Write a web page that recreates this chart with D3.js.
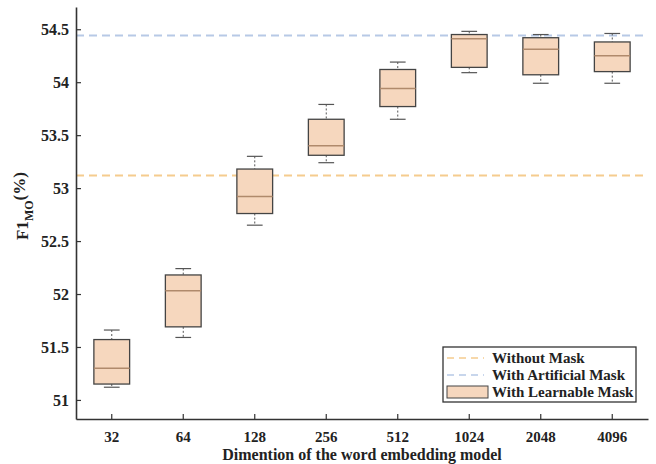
<!DOCTYPE html>
<html>
<head>
<meta charset="utf-8">
<script src="https://cdn.jsdelivr.net/npm/d3@7"></script>
<style>
  body { margin: 0; background: #fff; }
  text { font-family: "Liberation Serif", "Times New Roman", serif; font-weight: bold; fill: #222; }
</style>
</head>
<body>
<div id="chart"></div>
<script>
const dims = ["32", "64", "128", "256", "512", "1024", "2048", "4096"];
const whiskerLow = [51.12, 51.59, 52.65, 53.24, 53.65, 54.09, 53.99, 53.99];
const q1 = [51.15, 51.69, 52.76, 53.31, 53.77, 54.14, 54.07, 54.10];
const medians = [51.30, 52.03, 52.92, 53.40, 53.94, 54.41, 54.31, 54.25];
const q3 = [51.57, 52.18, 53.18, 53.65, 54.12, 54.45, 54.42, 54.38];
const whiskerHigh = [51.66, 52.24, 53.30, 53.79, 54.19, 54.48, 54.45, 54.46];
const withoutMask = 53.12;
const artificialMask = 54.44;
const yTicks = [51, 51.5, 52, 52.5, 53, 53.5, 54, 54.5];
const legendLabels = ["Without Mask", "With Artificial Mask", "With Learnable Mask"];

const width = 656, height = 464;
const margin = { top: 7, right: 8, bottom: 45, left: 76 };

const svg = d3.select("#chart").append("svg")
    .attr("width", width)
    .attr("height", height);

const x = d3.scaleBand()
    .domain(dims)
    .range([margin.left, width - margin.right]);

const y = d3.scaleLinear()
    .domain([50.82, 54.71])
    .range([height - margin.bottom, margin.top]);

const boxes = dims.map((d, i) => ({
    dim: d, lo: whiskerLow[i], q1: q1[i], med: medians[i], q3: q3[i], hi: whiskerHigh[i]
}));

// reference lines
svg.append("line")
    .attr("x1", margin.left).attr("x2", width - margin.right)
    .attr("y1", y(artificialMask)).attr("y2", y(artificialMask))
    .attr("stroke", "#b7c9e6").attr("stroke-width", 2)
    .attr("stroke-dasharray", "8,5");

svg.append("line")
    .attr("x1", margin.left).attr("x2", width - margin.right)
    .attr("y1", y(withoutMask)).attr("y2", y(withoutMask))
    .attr("stroke", "#f5cc8e").attr("stroke-width", 2)
    .attr("stroke-dasharray", "8,5");

// boxes
const bw = x.bandwidth() * 0.5;
const cw = x.bandwidth() * 0.22;
const g = svg.append("g").selectAll("g")
    .data(boxes)
    .enter().append("g")
    .attr("transform", d => "translate(" + (x(d.dim) + x.bandwidth() / 2) + ",0)");

g.append("line")
    .attr("y1", d => y(d.hi)).attr("y2", d => y(d.q3))
    .attr("stroke", "#555").attr("stroke-dasharray", "2,2");
g.append("line")
    .attr("y1", d => y(d.q1)).attr("y2", d => y(d.lo))
    .attr("stroke", "#555").attr("stroke-dasharray", "2,2");
g.append("line")
    .attr("x1", -cw / 2).attr("x2", cw / 2)
    .attr("y1", d => y(d.hi)).attr("y2", d => y(d.hi))
    .attr("stroke", "#555").attr("stroke-width", 1.2);
g.append("line")
    .attr("x1", -cw / 2).attr("x2", cw / 2)
    .attr("y1", d => y(d.lo)).attr("y2", d => y(d.lo))
    .attr("stroke", "#555").attr("stroke-width", 1.2);
g.append("rect")
    .attr("x", -bw / 2).attr("width", bw)
    .attr("y", d => y(d.q3))
    .attr("height", d => y(d.q1) - y(d.q3))
    .attr("fill", "#f6d7be")
    .attr("stroke", "#444").attr("stroke-width", 1.3);
g.append("line")
    .attr("x1", -bw / 2).attr("x2", bw / 2)
    .attr("y1", d => y(d.med)).attr("y2", d => y(d.med))
    .attr("stroke", "#b08a6c").attr("stroke-width", 1.5);

// axes
const yAxis = svg.append("g")
    .attr("transform", "translate(" + margin.left + ",0)")
    .call(d3.axisLeft(y).tickValues(yTicks).tickSizeInner(-5).tickSizeOuter(0).tickPadding(7).tickFormat(d3.format("~g")));
yAxis.select(".domain").attr("stroke", "#333").attr("stroke-width", 1.6);
yAxis.selectAll(".tick line").attr("stroke", "#333").attr("stroke-width", 1.2);
yAxis.selectAll("text").style("font-size", "16px").attr("fill", "#222");

const xAxis = svg.append("g")
    .attr("transform", "translate(0," + (height - margin.bottom) + ")")
    .call(d3.axisBottom(x).tickSizeInner(-5).tickSizeOuter(0).tickPadding(12));
xAxis.select(".domain").attr("stroke", "#333").attr("stroke-width", 1.6);
xAxis.selectAll(".tick line").attr("stroke", "#333").attr("stroke-width", 1.2);
xAxis.selectAll("text").style("font-size", "15px").attr("fill", "#222");

svg.append("text")
    .attr("x", (margin.left + width - margin.right) / 2)
    .attr("y", 460)
    .attr("text-anchor", "middle")
    .style("font-size", "16px")
    .text("Dimention of the word embedding model");

const yl = svg.append("text")
    .attr("transform", "translate(28,206) rotate(-90)")
    .attr("text-anchor", "middle")
    .style("font-size", "17px");
yl.append("tspan").text("F1");
yl.append("tspan").attr("dy", 5).style("font-size", "12px").text("MO");
yl.append("tspan").attr("dy", -8).text("(%)");

// legend
const lg = svg.append("g").attr("transform", "translate(443,347)");
lg.append("rect")
    .attr("width", 193).attr("height", 55)
    .attr("fill", "#fff").attr("stroke", "#333").attr("stroke-width", 1.3);
const legendColors = ["#f5cc8e", "#b7c9e6"];
legendLabels.forEach(function (t, i) {
    const cy = 11 + i * 17;
    if (i < 2) {
        lg.append("line")
            .attr("x1", 4).attr("x2", 41)
            .attr("y1", cy).attr("y2", cy)
            .attr("stroke", legendColors[i]).attr("stroke-width", 1.5)
            .attr("stroke-dasharray", "7,5");
    } else {
        lg.append("rect")
            .attr("x", 4).attr("y", cy - 6).attr("width", 41).attr("height", 12)
            .attr("fill", "#f6d7be").attr("stroke", "#444").attr("stroke-width", 1);
    }
    lg.append("text")
        .attr("x", 49).attr("y", cy + 5)
        .style("font-size", "15px")
        .text(t);
});
</script>
</body>
</html>
